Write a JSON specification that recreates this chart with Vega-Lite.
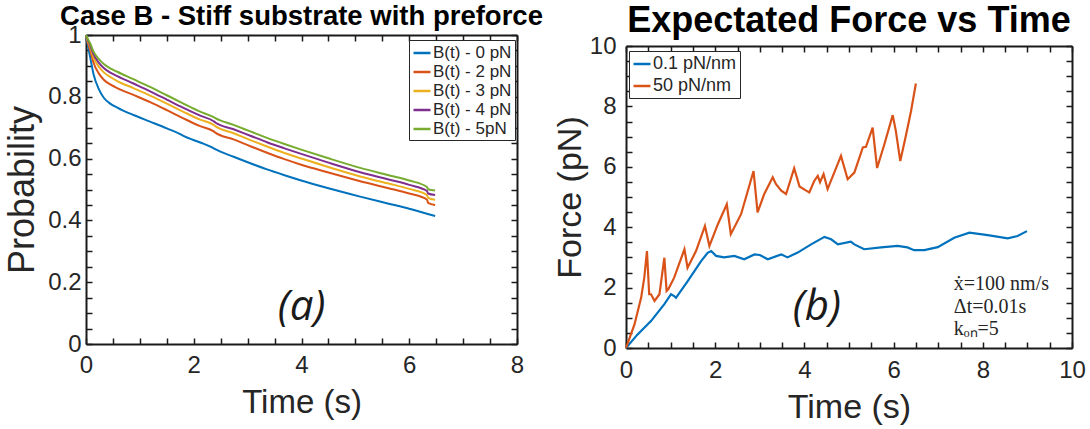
{
  "$schema": "https://vega.github.io/schema/vega-lite/v6.json",
  "padding": {"left": 4, "top": 2, "right": 4, "bottom": 2},
  "spacing": 10,
  "background": "white",
  "config": {
    "font": "Liberation Sans",
    "view": {"stroke": null},
    "axis": {"grid": false, "domain": true, "domainColor": "#1a1a1a", "domainWidth": 2, "tickColor": "#1a1a1a", "tickSize": -6, "tickWidth": 1.5, "labelColor": "#262626", "labelFontSize": 24, "labelFont": "Liberation Sans", "titleColor": "#262626", "titleFont": "Liberation Sans", "titleFontWeight": "normal", "labelFlush": false, "labelOverlap": false, "labelBound": false, "minExtent": 0},
    "legend": {"title": null, "orient": "none", "symbolType": "stroke", "symbolSize": 289, "symbolStrokeWidth": 2.5, "labelFont": "Liberation Sans", "labelColor": "#262626", "labelOffset": 1, "rowPadding": 3, "padding": 3, "strokeColor": "#262626", "fillColor": "white", "cornerRadius": 0}
  },
  "resolve": {"scale": {"color": "independent"}},
  "hconcat": [
    {
      "width": 431,
      "height": 298,
      "title": {"text": "Case B - Stiff substrate with preforce", "fontSize": 27.5, "font": "Liberation Sans", "fontWeight": "bold", "color": "black", "anchor": "middle", "frame": "group", "offset": -7},
      "resolve": {"axis": {"x": "independent", "y": "independent"}},
      "layer": [
        {
          "data": {"values": [
            {"s":"B(t) - 0 pN","t":0,"p":1.0},{"s":"B(t) - 0 pN","t":0.04,"p":0.962},{"s":"B(t) - 0 pN","t":0.08,"p":0.926},{"s":"B(t) - 0 pN","t":0.14,"p":0.873},{"s":"B(t) - 0 pN","t":0.24,"p":0.824},{"s":"B(t) - 0 pN","t":0.33,"p":0.797},{"s":"B(t) - 0 pN","t":0.45,"p":0.778},{"s":"B(t) - 0 pN","t":0.58,"p":0.765},{"s":"B(t) - 0 pN","t":0.88,"p":0.741},{"s":"B(t) - 0 pN","t":1.2,"p":0.719},{"s":"B(t) - 0 pN","t":1.5,"p":0.698},{"s":"B(t) - 0 pN","t":1.75,"p":0.679},{"s":"B(t) - 0 pN","t":1.8,"p":0.674},{"s":"B(t) - 0 pN","t":2.12,"p":0.652},{"s":"B(t) - 0 pN","t":2.34,"p":0.636},{"s":"B(t) - 0 pN","t":2.38,"p":0.632},{"s":"B(t) - 0 pN","t":2.74,"p":0.606},{"s":"B(t) - 0 pN","t":3.05,"p":0.585},{"s":"B(t) - 0 pN","t":3.36,"p":0.565},{"s":"B(t) - 0 pN","t":3.67,"p":0.547},{"s":"B(t) - 0 pN","t":3.98,"p":0.53},{"s":"B(t) - 0 pN","t":4.5,"p":0.504},{"s":"B(t) - 0 pN","t":5.09,"p":0.477},{"s":"B(t) - 0 pN","t":5.6,"p":0.455},{"s":"B(t) - 0 pN","t":6.0,"p":0.438},{"s":"B(t) - 0 pN","t":6.48,"p":0.414},
            {"s":"B(t) - 2 pN","t":0,"p":1.0},{"s":"B(t) - 2 pN","t":0.04,"p":0.972},{"s":"B(t) - 2 pN","t":0.08,"p":0.95},{"s":"B(t) - 2 pN","t":0.14,"p":0.91},{"s":"B(t) - 2 pN","t":0.24,"p":0.875},{"s":"B(t) - 2 pN","t":0.33,"p":0.855},{"s":"B(t) - 2 pN","t":0.45,"p":0.84},{"s":"B(t) - 2 pN","t":0.58,"p":0.828},{"s":"B(t) - 2 pN","t":0.88,"p":0.806},{"s":"B(t) - 2 pN","t":1.2,"p":0.782},{"s":"B(t) - 2 pN","t":1.5,"p":0.757},{"s":"B(t) - 2 pN","t":1.8,"p":0.731},{"s":"B(t) - 2 pN","t":2.12,"p":0.705},{"s":"B(t) - 2 pN","t":2.37,"p":0.688},{"s":"B(t) - 2 pN","t":2.4,"p":0.684},{"s":"B(t) - 2 pN","t":2.74,"p":0.662},{"s":"B(t) - 2 pN","t":3.05,"p":0.64},{"s":"B(t) - 2 pN","t":3.36,"p":0.619},{"s":"B(t) - 2 pN","t":3.67,"p":0.599},{"s":"B(t) - 2 pN","t":3.98,"p":0.581},{"s":"B(t) - 2 pN","t":4.5,"p":0.555},{"s":"B(t) - 2 pN","t":5.09,"p":0.527},{"s":"B(t) - 2 pN","t":5.6,"p":0.505},{"s":"B(t) - 2 pN","t":6.0,"p":0.487},{"s":"B(t) - 2 pN","t":6.33,"p":0.467},{"s":"B(t) - 2 pN","t":6.35,"p":0.457},{"s":"B(t) - 2 pN","t":6.48,"p":0.45},
            {"s":"B(t) - 3 pN","t":0,"p":1.0},{"s":"B(t) - 3 pN","t":0.04,"p":0.978},{"s":"B(t) - 3 pN","t":0.08,"p":0.96},{"s":"B(t) - 3 pN","t":0.14,"p":0.927},{"s":"B(t) - 3 pN","t":0.24,"p":0.897},{"s":"B(t) - 3 pN","t":0.33,"p":0.879},{"s":"B(t) - 3 pN","t":0.45,"p":0.864},{"s":"B(t) - 3 pN","t":0.58,"p":0.851},{"s":"B(t) - 3 pN","t":0.88,"p":0.828},{"s":"B(t) - 3 pN","t":1.2,"p":0.803},{"s":"B(t) - 3 pN","t":1.5,"p":0.778},{"s":"B(t) - 3 pN","t":1.8,"p":0.752},{"s":"B(t) - 3 pN","t":2.12,"p":0.726},{"s":"B(t) - 3 pN","t":2.37,"p":0.709},{"s":"B(t) - 3 pN","t":2.4,"p":0.705},{"s":"B(t) - 3 pN","t":2.74,"p":0.682},{"s":"B(t) - 3 pN","t":3.05,"p":0.66},{"s":"B(t) - 3 pN","t":3.36,"p":0.639},{"s":"B(t) - 3 pN","t":3.67,"p":0.619},{"s":"B(t) - 3 pN","t":3.98,"p":0.601},{"s":"B(t) - 3 pN","t":4.5,"p":0.573},{"s":"B(t) - 3 pN","t":5.09,"p":0.542},{"s":"B(t) - 3 pN","t":5.6,"p":0.52},{"s":"B(t) - 3 pN","t":6.0,"p":0.502},{"s":"B(t) - 3 pN","t":6.33,"p":0.482},{"s":"B(t) - 3 pN","t":6.35,"p":0.473},{"s":"B(t) - 3 pN","t":6.48,"p":0.467},
            {"s":"B(t) - 4 pN","t":0,"p":1.0},{"s":"B(t) - 4 pN","t":0.04,"p":0.982},{"s":"B(t) - 4 pN","t":0.08,"p":0.966},{"s":"B(t) - 4 pN","t":0.14,"p":0.937},{"s":"B(t) - 4 pN","t":0.24,"p":0.91},{"s":"B(t) - 4 pN","t":0.33,"p":0.893},{"s":"B(t) - 4 pN","t":0.45,"p":0.878},{"s":"B(t) - 4 pN","t":0.58,"p":0.867},{"s":"B(t) - 4 pN","t":0.88,"p":0.843},{"s":"B(t) - 4 pN","t":1.2,"p":0.817},{"s":"B(t) - 4 pN","t":1.5,"p":0.791},{"s":"B(t) - 4 pN","t":1.8,"p":0.765},{"s":"B(t) - 4 pN","t":2.12,"p":0.739},{"s":"B(t) - 4 pN","t":2.37,"p":0.721},{"s":"B(t) - 4 pN","t":2.4,"p":0.717},{"s":"B(t) - 4 pN","t":2.74,"p":0.695},{"s":"B(t) - 4 pN","t":3.05,"p":0.674},{"s":"B(t) - 4 pN","t":3.36,"p":0.653},{"s":"B(t) - 4 pN","t":3.67,"p":0.634},{"s":"B(t) - 4 pN","t":3.98,"p":0.616},{"s":"B(t) - 4 pN","t":4.5,"p":0.587},{"s":"B(t) - 4 pN","t":5.09,"p":0.556},{"s":"B(t) - 4 pN","t":5.6,"p":0.533},{"s":"B(t) - 4 pN","t":6.0,"p":0.515},{"s":"B(t) - 4 pN","t":6.33,"p":0.495},{"s":"B(t) - 4 pN","t":6.35,"p":0.487},{"s":"B(t) - 4 pN","t":6.48,"p":0.482},
            {"s":"B(t) - 5pN","t":0,"p":1.0},{"s":"B(t) - 5pN","t":0.04,"p":0.985},{"s":"B(t) - 5pN","t":0.08,"p":0.972},{"s":"B(t) - 5pN","t":0.14,"p":0.946},{"s":"B(t) - 5pN","t":0.24,"p":0.922},{"s":"B(t) - 5pN","t":0.33,"p":0.906},{"s":"B(t) - 5pN","t":0.45,"p":0.892},{"s":"B(t) - 5pN","t":0.58,"p":0.881},{"s":"B(t) - 5pN","t":0.88,"p":0.857},{"s":"B(t) - 5pN","t":1.2,"p":0.831},{"s":"B(t) - 5pN","t":1.5,"p":0.805},{"s":"B(t) - 5pN","t":1.8,"p":0.779},{"s":"B(t) - 5pN","t":2.12,"p":0.752},{"s":"B(t) - 5pN","t":2.37,"p":0.734},{"s":"B(t) - 5pN","t":2.4,"p":0.731},{"s":"B(t) - 5pN","t":2.74,"p":0.709},{"s":"B(t) - 5pN","t":3.05,"p":0.688},{"s":"B(t) - 5pN","t":3.36,"p":0.667},{"s":"B(t) - 5pN","t":3.67,"p":0.648},{"s":"B(t) - 5pN","t":3.98,"p":0.63},{"s":"B(t) - 5pN","t":4.5,"p":0.601},{"s":"B(t) - 5pN","t":5.09,"p":0.57},{"s":"B(t) - 5pN","t":5.6,"p":0.547},{"s":"B(t) - 5pN","t":6.0,"p":0.529},{"s":"B(t) - 5pN","t":6.33,"p":0.508},{"s":"B(t) - 5pN","t":6.35,"p":0.501},{"s":"B(t) - 5pN","t":6.48,"p":0.497}
          ]},
          "mark": {"type": "line", "strokeWidth": 2, "interpolate": "monotone"},
          "encoding": {
            "x": {"field": "t", "type": "quantitative", "scale": {"domain": [0, 8], "nice": false},
              "axis": {"orient": "bottom", "title": "Time (s)", "titleFontSize": 33, "titlePadding": 9, "labelPadding": 15, "format": "~g",
                "values": [0,0.5,1,1.5,2,2.5,3,3.5,4,4.5,5,5.5,6,6.5,7,7.5,8],
                "labelExpr": "datum.value % 2 == 0 ? datum.label : ''"}},
            "y": {"field": "p", "type": "quantitative", "scale": {"domain": [0, 1], "nice": false, "range": [298, -11]},
              "axis": {"orient": "left", "title": "Probability", "titleFontSize": 36, "titlePadding": 6, "labelPadding": 11, "format": "~g",
                "values": [0,0.05,0.1,0.15,0.2,0.25,0.3,0.35,0.4,0.45,0.5,0.55,0.6,0.65,0.7,0.75,0.8,0.85,0.9,0.95,1],
                "labelExpr": "abs(datum.value*5 - round(datum.value*5)) < 0.001 ? datum.label : ''"}},
            "color": {"field": "s", "type": "nominal",
              "scale": {"domain": ["B(t) - 0 pN","B(t) - 2 pN","B(t) - 3 pN","B(t) - 4 pN","B(t) - 5pN"], "range": ["#0072BD","#D95319","#EDB120","#7E2F8E","#77AC30"]},
              "legend": {"legendX": 323, "legendY": -6, "labelFontSize": 17, "rowPadding": 1}}
          }
        },
        {
          "data": {"values": [{"t": 4.0, "p": 0.12, "label": "(a)"}]},
          "mark": {"type": "text", "font": "Open Sans", "fontStyle": "italic", "fontSize": 42, "color": "#1a1a1a", "baseline": "middle", "align": "center"},
          "encoding": {
            "x": {"field": "t", "type": "quantitative", "scale": {"domain": [0, 8], "nice": false},
              "axis": {"orient": "top", "title": null, "labels": false, "offset": 11, "values": [0,0.5,1,1.5,2,2.5,3,3.5,4,4.5,5,5.5,6,6.5,7,7.5,8]}},
            "y": {"field": "p", "type": "quantitative", "scale": {"domain": [0, 1], "nice": false, "range": [298, -11]},
              "axis": {"orient": "right", "title": null, "labels": false, "values": [0,0.05,0.1,0.15,0.2,0.25,0.3,0.35,0.4,0.45,0.5,0.55,0.6,0.65,0.7,0.75,0.8,0.85,0.9,0.95,1]}},
            "text": {"field": "label"}
          }
        }
      ]
    },
    {
      "width": 446,
      "height": 302,
      "title": {"text": "Expectated Force vs Time", "fontSize": 36, "font": "Liberation Sans", "fontWeight": "bold", "color": "black", "anchor": "middle", "frame": "group", "offset": -6},
      "resolve": {"axis": {"x": "independent", "y": "independent"}},
      "layer": [
        {
          "data": {"values": [
            {"k":"0.1 pN/nm","t":0,"F":0},{"k":"0.1 pN/nm","t":0.26,"F":0.45},{"k":"0.1 pN/nm","t":0.56,"F":0.89},{"k":"0.1 pN/nm","t":0.86,"F":1.45},{"k":"0.1 pN/nm","t":1.01,"F":1.78},{"k":"0.1 pN/nm","t":1.08,"F":1.72},{"k":"0.1 pN/nm","t":1.12,"F":1.66},{"k":"0.1 pN/nm","t":1.38,"F":2.21},{"k":"0.1 pN/nm","t":1.68,"F":2.87},{"k":"0.1 pN/nm","t":1.83,"F":3.15},{"k":"0.1 pN/nm","t":1.91,"F":3.21},{"k":"0.1 pN/nm","t":2.02,"F":3.05},{"k":"0.1 pN/nm","t":2.2,"F":3.0},{"k":"0.1 pN/nm","t":2.43,"F":3.05},{"k":"0.1 pN/nm","t":2.65,"F":2.94},{"k":"0.1 pN/nm","t":2.88,"F":3.1},{"k":"0.1 pN/nm","t":3.0,"F":3.08},{"k":"0.1 pN/nm","t":3.18,"F":2.94},{"k":"0.1 pN/nm","t":3.48,"F":3.1},{"k":"0.1 pN/nm","t":3.62,"F":3.0},{"k":"0.1 pN/nm","t":3.85,"F":3.16},{"k":"0.1 pN/nm","t":4.15,"F":3.43},{"k":"0.1 pN/nm","t":4.45,"F":3.68},{"k":"0.1 pN/nm","t":4.6,"F":3.6},{"k":"0.1 pN/nm","t":4.75,"F":3.43},{"k":"0.1 pN/nm","t":5.04,"F":3.52},{"k":"0.1 pN/nm","t":5.12,"F":3.43},{"k":"0.1 pN/nm","t":5.34,"F":3.27},{"k":"0.1 pN/nm","t":5.72,"F":3.33},{"k":"0.1 pN/nm","t":6.09,"F":3.38},{"k":"0.1 pN/nm","t":6.31,"F":3.33},{"k":"0.1 pN/nm","t":6.46,"F":3.24},{"k":"0.1 pN/nm","t":6.69,"F":3.24},{"k":"0.1 pN/nm","t":6.99,"F":3.34},{"k":"0.1 pN/nm","t":7.36,"F":3.65},{"k":"0.1 pN/nm","t":7.7,"F":3.82},{"k":"0.1 pN/nm","t":8.11,"F":3.74},{"k":"0.1 pN/nm","t":8.56,"F":3.63},{"k":"0.1 pN/nm","t":8.78,"F":3.71},{"k":"0.1 pN/nm","t":8.99,"F":3.87},
            {"k":"50 pN/nm","t":0,"F":0},{"k":"50 pN/nm","t":0.19,"F":0.78},{"k":"50 pN/nm","t":0.34,"F":1.67},{"k":"50 pN/nm","t":0.41,"F":2.33},{"k":"50 pN/nm","t":0.47,"F":3.21},{"k":"50 pN/nm","t":0.52,"F":1.78},{"k":"50 pN/nm","t":0.56,"F":1.78},{"k":"50 pN/nm","t":0.64,"F":1.56},{"k":"50 pN/nm","t":0.75,"F":1.78},{"k":"50 pN/nm","t":0.86,"F":2.99},{"k":"50 pN/nm","t":0.91,"F":1.89},{"k":"50 pN/nm","t":0.95,"F":1.95},{"k":"50 pN/nm","t":1.08,"F":2.33},{"k":"50 pN/nm","t":1.31,"F":3.27},{"k":"50 pN/nm","t":1.38,"F":2.66},{"k":"50 pN/nm","t":1.57,"F":3.21},{"k":"50 pN/nm","t":1.77,"F":4.04},{"k":"50 pN/nm","t":1.87,"F":3.38},{"k":"50 pN/nm","t":2.06,"F":4.1},{"k":"50 pN/nm","t":2.26,"F":4.76},{"k":"50 pN/nm","t":2.35,"F":3.77},{"k":"50 pN/nm","t":2.58,"F":4.43},{"k":"50 pN/nm","t":2.86,"F":5.86},{"k":"50 pN/nm","t":2.95,"F":4.49},{"k":"50 pN/nm","t":3.1,"F":5.1},{"k":"50 pN/nm","t":3.29,"F":5.65},{"k":"50 pN/nm","t":3.36,"F":5.43},{"k":"50 pN/nm","t":3.48,"F":5.21},{"k":"50 pN/nm","t":3.59,"F":5.1},{"k":"50 pN/nm","t":3.77,"F":5.95},{"k":"50 pN/nm","t":3.89,"F":5.35},{"k":"50 pN/nm","t":4.04,"F":5.21},{"k":"50 pN/nm","t":4.11,"F":5.15},{"k":"50 pN/nm","t":4.22,"F":5.53},{"k":"50 pN/nm","t":4.3,"F":5.7},{"k":"50 pN/nm","t":4.35,"F":5.49},{"k":"50 pN/nm","t":4.43,"F":5.76},{"k":"50 pN/nm","t":4.52,"F":5.26},{"k":"50 pN/nm","t":4.82,"F":6.36},{"k":"50 pN/nm","t":4.97,"F":5.59},{"k":"50 pN/nm","t":5.12,"F":5.81},{"k":"50 pN/nm","t":5.31,"F":6.64},{"k":"50 pN/nm","t":5.38,"F":6.66},{"k":"50 pN/nm","t":5.53,"F":7.3},{"k":"50 pN/nm","t":5.63,"F":5.96},{"k":"50 pN/nm","t":5.79,"F":6.73},{"k":"50 pN/nm","t":5.98,"F":7.71},{"k":"50 pN/nm","t":6.05,"F":7.19},{"k":"50 pN/nm","t":6.15,"F":6.19},{"k":"50 pN/nm","t":6.28,"F":7.06},{"k":"50 pN/nm","t":6.39,"F":7.84},{"k":"50 pN/nm","t":6.5,"F":8.76}
          ]},
          "mark": {"type": "line", "strokeWidth": 2.2},
          "encoding": {
            "x": {"field": "t", "type": "quantitative", "scale": {"domain": [0, 10], "nice": false},
              "axis": {"orient": "bottom", "title": "Time (s)", "titleFontSize": 34, "titlePadding": 8, "labelPadding": 16, "format": "~g",
                "values": [0,0.5,1,1.5,2,2.5,3,3.5,4,4.5,5,5.5,6,6.5,7,7.5,8,8.5,9,9.5,10],
                "labelExpr": "datum.value % 2 == 0 ? datum.label : ''"}},
            "y": {"field": "F", "type": "quantitative", "scale": {"domain": [0, 10], "nice": false},
              "axis": {"orient": "left", "title": "Force (pN)", "titleFontSize": 34, "titlePadding": 2, "labelPadding": 16, "format": "~g",
                "values": [0,0.5,1,1.5,2,2.5,3,3.5,4,4.5,5,5.5,6,6.5,7,7.5,8,8.5,9,9.5,10],
                "labelExpr": "datum.value % 2 == 0 ? datum.label : ''"}},
            "color": {"field": "k", "type": "nominal",
              "scale": {"domain": ["0.1 pN/nm","50 pN/nm"], "range": ["#0072BD","#D95319"]},
              "legend": {"legendX": 3, "legendY": 5, "labelFontSize": 18}}
          }
        },
        {
          "data": {"values": [{"t": 4.28, "F": 1.36, "label": "(b)"}]},
          "mark": {"type": "text", "font": "Open Sans", "fontStyle": "italic", "fontSize": 42, "color": "#1a1a1a", "baseline": "middle", "align": "center"},
          "encoding": {
            "x": {"field": "t", "type": "quantitative", "scale": {"domain": [0, 10], "nice": false},
              "axis": {"orient": "top", "title": null, "labels": false, "values": [0,0.5,1,1.5,2,2.5,3,3.5,4,4.5,5,5.5,6,6.5,7,7.5,8,8.5,9,9.5,10]}},
            "y": {"field": "F", "type": "quantitative", "scale": {"domain": [0, 10], "nice": false},
              "axis": {"orient": "right", "title": null, "labels": false, "values": [0,0.5,1,1.5,2,2.5,3,3.5,4,4.5,5,5.5,6,6.5,7,7.5,8,8.5,9,9.5,10]}},
            "text": {"field": "label"}
          }
        },
        {
          "data": {"values": [
            {"t": 7.35, "F": 2.12, "label": "ẋ=100 nm/s"},
            {"t": 7.35, "F": 1.36, "label": "Δt=0.01s"},
            {"t": 7.35, "F": 0.63, "label": "kₒₙ=5"}
          ]},
          "mark": {"type": "text", "font": "Liberation Serif", "fontSize": 20, "color": "#262626", "baseline": "middle", "align": "left"},
          "encoding": {
            "x": {"field": "t", "type": "quantitative", "scale": {"domain": [0, 10], "nice": false}, "axis": null},
            "y": {"field": "F", "type": "quantitative", "scale": {"domain": [0, 10], "nice": false}, "axis": null},
            "text": {"field": "label"}
          }
        }
      ]
    }
  ]
}
